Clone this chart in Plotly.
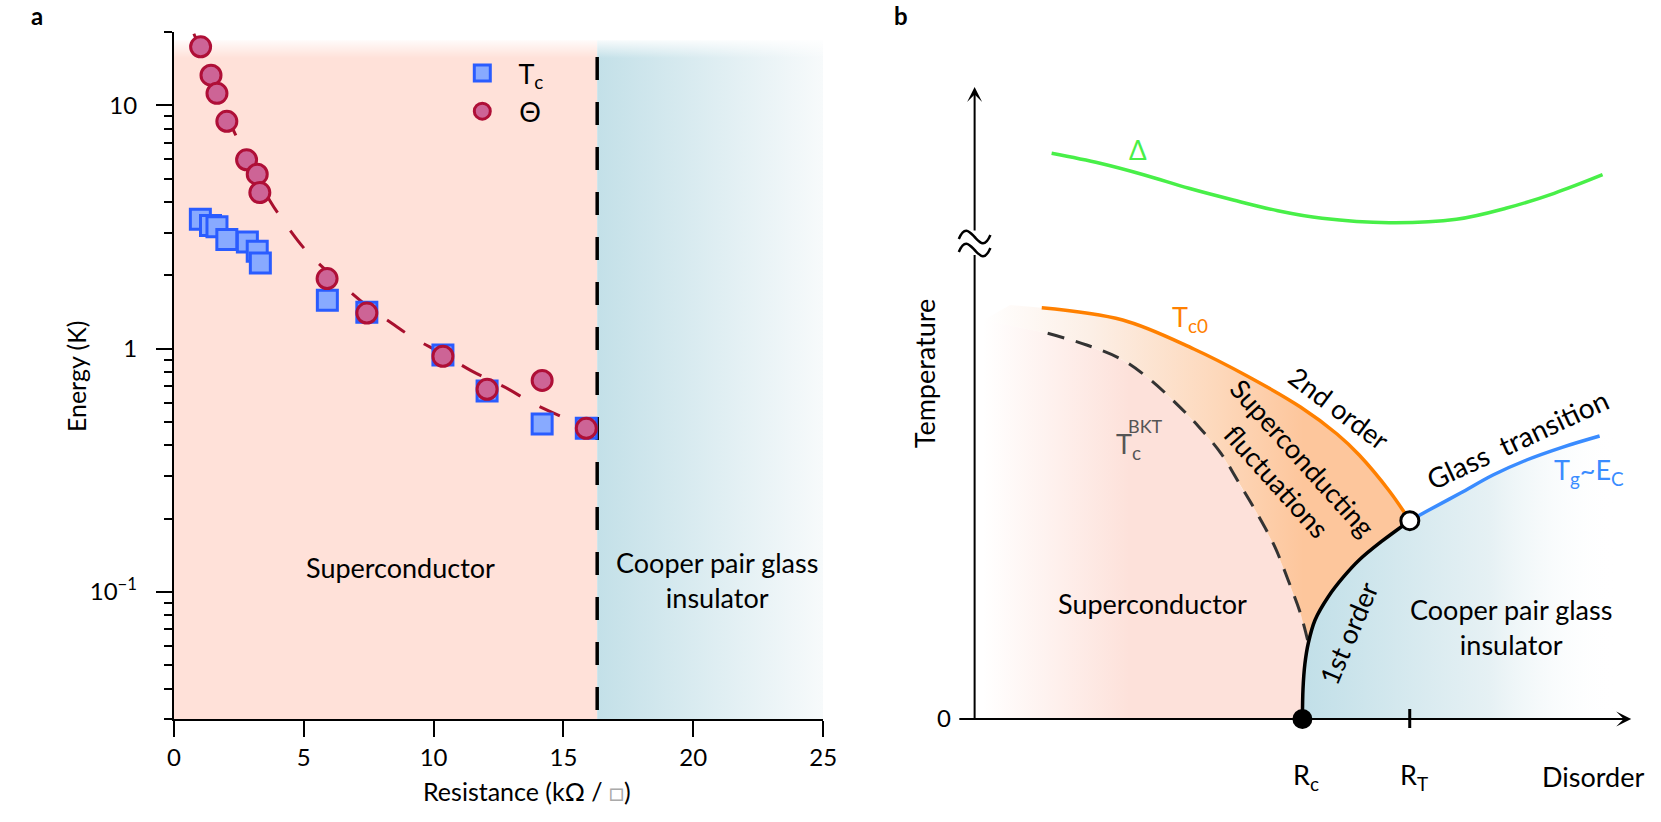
import math
import plotly.graph_objects as go

# ---------------- Panel a data ----------------
R_TC = [1.02, 1.41, 1.66, 2.04, 2.83, 3.21, 3.33, 5.91, 7.43, 10.36, 12.06, 14.18, 15.88]
E_TC = [3.40, 3.21, 3.17, 2.81, 2.74, 2.51, 2.25, 1.58, 1.41, 0.94, 0.67, 0.49, 0.47]
R_THETA = [1.03, 1.43, 1.66, 2.04, 2.80, 3.21, 3.31, 5.90, 7.43, 10.36, 12.06, 14.18, 15.88]
E_THETA = [17.4, 13.3, 11.2, 8.6, 5.97, 5.21, 4.38, 1.94, 1.40, 0.93, 0.68, 0.74, 0.47]
R_FIT = [0.77, 1.5, 2.26, 2.9, 3.71, 4.09, 5.13, 6.41, 7.43, 8.49, 9.2, 10.36, 11.46, 12.9, 13.76, 15.36, 15.9]
E_FIT = [19.7, 12.9, 8.04, 5.9, 4.03, 3.5, 2.5, 1.86, 1.50, 1.25, 1.11, 0.95, 0.81, 0.68, 0.60, 0.50, 0.47]
R_TRANSITION = 16.3
R_MIN, R_MAX = 0, 25
E_MIN, E_MAX = 0.03, 20
X_TICKS = [0, 5, 10, 15, 20, 25]
Y_TICKVALS = [0.1, 1, 10]
Y_TICKTEXT = ["10<sup>\u22121</sup>", "1", "10"]
Y_MINOR = [0.03, 0.04, 0.05, 0.06, 0.07, 0.08, 0.09,
           0.2, 0.3, 0.4, 0.5, 0.6, 0.7, 0.8, 0.9,
           2, 3, 4, 5, 6, 7, 8, 9, 20]

# ---------------- Panel b (schematic) data ----------------
TC0_D = [0.68, 1.50, 2.22, 2.76, 3.30, 3.67, 3.895, 4.20, 4.408]
TC0_T = [4.113, 3.99, 3.70, 3.43, 3.12, 2.85, 2.64, 2.28, 1.983]
BKT_D = [0.74, 1.135, 1.50, 1.77, 2.04, 2.27, 2.495, 2.68, 2.86, 3.04, 3.175, 3.30, 3.38]
BKT_T = [3.857, 3.74, 3.59, 3.40, 3.157, 2.923, 2.657, 2.357, 2.057, 1.723, 1.39, 1.057, 0.76]
FIRST_D = [3.32, 3.326, 3.345, 3.38, 3.448, 3.582, 3.738, 3.895, 4.118, 4.408]
FIRST_T = [0.0, 0.30, 0.55, 0.76, 0.99, 1.223, 1.423, 1.59, 1.773, 1.983]
TG_D = [4.408, 4.583, 4.917, 5.25, 5.59, 5.95, 6.33]
TG_T = [1.983, 2.08, 2.257, 2.44, 2.59, 2.717, 2.83]
DELTA_D = [0.78, 1.27, 1.72, 2.17, 2.62, 3.07, 3.52, 4.20, 4.88, 5.38, 5.87, 6.36]
DELTA_T = [5.657, 5.557, 5.44, 5.307, 5.19, 5.083, 5.007, 4.963, 4.997, 5.107, 5.257, 5.443]
R_C = 3.32
R_T = 4.407
LEFT_FADE_D = 0.09
TC0_EXT = (0.36, 4.14)
BKT_EXT = (0.09, 3.99)
BLUE_END_D = 6.5
D_ARROW_END = 6.65
T_ARROW_END = 6.32
T_BREAK = (4.64, 4.87)

W, H = 1661, 822
FONT = "Lato, 'Noto Sans', sans-serif"
PINK_A = "#ffe1d9"
BLUE_L = "#c3e0e8"
BLUE_R = "#f7fafb"
PINK_B = "#fde1da"
ORANGE_F = "#fdc69c"
SQ_FILL, SQ_LINE = "#88aaff", "#2a5cff"
CI_FILL, CI_LINE = "#cd6496", "#af0f37"
FIT_COL = "#a8102e"
NB = "\u00a0"

fig = go.Figure()
NOLINE = dict(width=0, color="rgba(0,0,0,0)")

# ---- panel a backgrounds (on x / y, y linear 0..1) ----
A_TOP = 0.988
FADE_LOW = 0.962
fig.add_trace(go.Scatter(x=[R_MIN, R_TRANSITION, R_TRANSITION, R_MIN], y=[0, 0, A_TOP, A_TOP],
                         fill="toself", fillcolor=PINK_A, line=NOLINE, mode="lines",
                         hoverinfo="skip", showlegend=False, xaxis="x", yaxis="y"))
fig.add_trace(go.Scatter(x=[R_TRANSITION, R_MAX, R_MAX, R_TRANSITION], y=[0, 0, A_TOP, A_TOP],
                         fill="toself",
                         fillgradient=dict(type="horizontal", colorscale=[[0, BLUE_L], [1, BLUE_R]]),
                         line=NOLINE, mode="lines", hoverinfo="skip", showlegend=False,
                         xaxis="x", yaxis="y"))
fig.add_trace(go.Scatter(x=[R_MIN, R_MAX, R_MAX, R_MIN], y=[FADE_LOW, FADE_LOW, A_TOP + 0.004, A_TOP + 0.004],
                         fill="toself",
                         fillgradient=dict(type="vertical",
                                           colorscale=[[0, "rgba(255,255,255,0)"], [1, "rgba(255,255,255,1)"]]),
                         line=NOLINE, mode="lines", hoverinfo="skip", showlegend=False,
                         xaxis="x", yaxis="y"))
fig.add_trace(go.Scatter(x=[R_TRANSITION, R_TRANSITION], y=[0.9636, 0],
                         mode="lines", line=dict(color="black", width=3.5, dash="23px,22px"),
                         hoverinfo="skip", showlegend=False, xaxis="x", yaxis="y"))

# ---- panel a data (on x / y2 log) ----
fig.add_trace(go.Scatter(x=R_FIT, y=E_FIT, mode="lines",
                         line=dict(color=FIT_COL, width=3, dash="22px,22px", shape="spline"),
                         hoverinfo="skip", showlegend=False, xaxis="x", yaxis="y2"))
fig.add_trace(go.Scatter(x=R_TC, y=E_TC, mode="markers", name=NB + "T<sub>c</sub>",
                         marker=dict(symbol="square", size=20, color=SQ_FILL,
                                     line=dict(color=SQ_LINE, width=3)),
                         xaxis="x", yaxis="y2"))
fig.add_trace(go.Scatter(x=R_THETA, y=E_THETA, mode="markers", name=NB + "\u0398",
                         marker=dict(symbol="circle", size=20, color=CI_FILL,
                                     line=dict(color=CI_LINE, width=3)),
                         xaxis="x", yaxis="y2"))

# ---- panel b regions (on x2 / y3) ----
split = [i for i, t in enumerate(FIRST_T) if t >= BKT_T[-1]][0]
pink_d = [LEFT_FADE_D] + FIRST_D[:split + 1] + BKT_D[::-1] + [BKT_EXT[0]]
pink_t = [0] + FIRST_T[:split + 1] + BKT_T[::-1] + [BKT_EXT[1]]
fig.add_trace(go.Scatter(x=pink_d, y=pink_t, fill="toself", mode="lines", line=NOLINE,
                         fillgradient=dict(type="horizontal",
                                           colorscale=[[0, "rgba(253,225,218,0)"], [0.45, PINK_B], [1, PINK_B]]),
                         hoverinfo="skip", showlegend=False, xaxis="x2", yaxis="y3"))
orange_d = [TC0_EXT[0]] + TC0_D + FIRST_D[split:][::-1] + BKT_D[::-1] + [BKT_EXT[0]]
orange_t = [TC0_EXT[1]] + TC0_T + FIRST_T[split:][::-1] + BKT_T[::-1] + [BKT_EXT[1]]
fig.add_trace(go.Scatter(x=orange_d, y=orange_t, fill="toself", mode="lines", line=NOLINE,
                         fillgradient=dict(type="horizontal",
                                           colorscale=[[0, "rgba(253,238,228,0)"], [0.25, "#fcefe6"],
                                                       [0.55, "#fdd8bb"], [0.75, ORANGE_F], [1, ORANGE_F]]),
                         hoverinfo="skip", showlegend=False, xaxis="x2", yaxis="y3"))
blue_d = FIRST_D + TG_D[1:] + [BLUE_END_D, BLUE_END_D]
blue_t = FIRST_T + TG_T[1:] + [TG_T[-1] + 0.05, 0]
fig.add_trace(go.Scatter(x=blue_d, y=blue_t, fill="toself", mode="lines", line=NOLINE,
                         fillgradient=dict(type="horizontal",
                                           colorscale=[[0, "#c1dfe8"], [0.6, "#e6f1f4"], [1, "rgba(255,255,255,0)"]]),
                         hoverinfo="skip", showlegend=False, xaxis="x2", yaxis="y3"))

# ---- panel b curves ----
def bline(xs, ys, color, width=3.5, dash=None, shape="spline"):
    fig.add_trace(go.Scatter(x=xs, y=ys, mode="lines",
                             line=dict(color=color, width=width, dash=dash, shape=shape),
                             hoverinfo="skip", showlegend=False, xaxis="x2", yaxis="y3"))

bline(DELTA_D, DELTA_T, "#48ef48")
bline(TC0_D, TC0_T, "#ff8000")
bline(BKT_D, BKT_T, "#333333", 3, "17px,12px")
bline(FIRST_D, FIRST_T, "black")
bline(TG_D, TG_T, "#3a8cff")
bline([R_T, R_T], [-0.09, 0.10], "black", 3, shape="linear")
fig.add_trace(go.Scatter(x=[R_C], y=[0], mode="markers",
                         marker=dict(size=20, color="black"), cliponaxis=False,
                         hoverinfo="skip", showlegend=False, xaxis="x2", yaxis="y3"))
fig.add_trace(go.Scatter(x=[TC0_D[-1]], y=[TC0_T[-1]], mode="markers",
                         marker=dict(size=18, color="white", line=dict(color="black", width=3)),
                         hoverinfo="skip", showlegend=False, xaxis="x2", yaxis="y3"))

# ---- annotations ----
ann = []
def bt(x, y, text, size=27, color="black", angle=0, family=FONT):
    ann.append(dict(x=x, y=y, xref="x2", yref="y3", text=text, showarrow=False,
                    textangle=angle, font=dict(size=size, color=color, family=family),
                    xanchor="center", yanchor="middle", align="center"))

bt(1.65, 5.69, "\u0394", 26, "#48ef48")
bt(2.18, 4.01, "T<sub>c0</sub>", 27, "#ff8000")
bt(1.56, 2.74, "T<sub>c</sub>", 27, "#555555")
bt(1.73, 2.93, "BKT", 18, "#555555")
bt(3.70, 3.11, "2nd order", 27, angle=37)
bt(3.19, 2.50, "Superconducting<br>fluctuations", 27, angle=48)
bt(3.78, 0.86, "1st order", 27, angle=-67)
bt(1.80, 1.16, "Superconductor", 27)
bt(5.43, 0.92, "Cooper pair glass<br>insulator", 27)
bt(5.50, 2.80, "Glass" + NB * 2 + "transition", 28, angle=-25)
bt(6.22, 2.48, "T<sub>g</sub>~E<sub>C</sub>", 27, "#3a8cff")
bt(-0.51, 3.46, "Temperature", 27, angle=-90)
bt(-0.31, 0.02, "0", 24)
bt(3.36, -0.57, "R<sub>c</sub>", 27)
bt(4.45, -0.57, "R<sub>T</sub>", 27)
bt(6.26, -0.57, "Disorder", 27)

# axis arrows of panel b
ann.append(dict(x=D_ARROW_END, y=0, ax=-0.17, ay=0, xref="x2", yref="y3", axref="x2", ayref="y3",
                text="", showarrow=True, arrowhead=3, arrowsize=1.25, arrowwidth=2, arrowcolor="black"))
ann.append(dict(x=0, y=T_ARROW_END, ax=0, ay=T_BREAK[1], xref="x2", yref="y3", axref="x2", ayref="y3",
                text="", showarrow=True, arrowhead=3, arrowsize=1.25, arrowwidth=2, arrowcolor="black"))

# panel a texts
ann.append(dict(x=8.73, y=0.22, xref="x", yref="y", text="Superconductor", showarrow=False,
                font=dict(size=27)))
ann.append(dict(x=20.9, y=0.202, xref="x", yref="y", text="Cooper pair glass<br>insulator",
                showarrow=False, font=dict(size=27), align="center"))
ann.append(dict(x=70 / W, y=1 - 376 / H, xref="paper", yref="paper", text="Energy (K)", showarrow=False,
                textangle=-90, font=dict(size=25), xanchor="center", yanchor="middle"))
ann.append(dict(x=527 / W, y=1 - 791 / H, xref="paper", yref="paper",
                text="Resistance (k\u03a9 / <span style='color:#aaaaaa'>\u25a1</span>)", showarrow=False,
                font=dict(size=25), xanchor="center", yanchor="middle"))
ann.append(dict(x=30 / W, y=1 - 16 / H, xref="paper", yref="paper", text="<b>a</b>", showarrow=False,
                font=dict(size=24), xanchor="center", yanchor="middle"))
ann.append(dict(x=905 / W, y=1 - 16 / H, xref="paper", yref="paper", text="<b>b</b>", showarrow=False,
                font=dict(size=24), xanchor="center", yanchor="middle"))

# axis line below the break, and the break mark (two tildes)
def tilde(c):
    return (f"M -0.16,{c - 0.02:.3f} C -0.10,{c + 0.12:.3f} -0.05,{c + 0.05:.3f} 0,{c:.3f} "
            f"S 0.10,{c - 0.12:.3f} 0.16,{c + 0.02:.3f}")

shapes = [dict(type="line", xref="x2", yref="y3", x0=0, x1=0, y0=0, y1=T_BREAK[0],
               line=dict(color="black", width=2)),
          dict(type="path", xref="x2", yref="y3", path=tilde(4.82), line=dict(color="black", width=2.5)),
          dict(type="path", xref="x2", yref="y3", path=tilde(4.69), line=dict(color="black", width=2.5))]

fig.update_layout(
    width=W, height=H, margin=dict(l=0, r=0, t=0, b=0),
    paper_bgcolor="white", plot_bgcolor="rgba(0,0,0,0)",
    font=dict(family=FONT, size=24, color="black"),
    annotations=ann, shapes=shapes,
    legend=dict(x=451 / W, y=1 - 49 / H, xanchor="left", yanchor="top", bgcolor="rgba(0,0,0,0)",
                font=dict(size=27), itemwidth=50, tracegroupgap=0),
    xaxis=dict(domain=[169 / W, 826.6 / W], range=[R_MIN, R_MAX], tickvals=X_TICKS, ticks="outside",
               ticklen=16, tickwidth=2, tickcolor="black", showline=True, linewidth=2, linecolor="black",
               showgrid=False, zeroline=False, anchor="y", tickfont=dict(size=24), ticklabelstandoff=0),
    yaxis=dict(domain=[1 - 719 / H, 1 - 32 / H], range=[0, 1], visible=False, anchor="x"),
    yaxis2=dict(type="log", range=[math.log10(E_MIN), math.log10(E_MAX) + 0.0005], overlaying="y",
                anchor="x", side="left", tickvals=Y_TICKVALS, ticktext=Y_TICKTEXT, ticks="outside",
                ticklen=16, tickwidth=2, tickcolor="black", showline=True, linewidth=2, linecolor="black",
                showgrid=False, zeroline=False, tickfont=dict(size=24), ticklabelstandoff=14,
                minor=dict(tickvals=Y_MINOR, ticks="outside", ticklen=8, tickwidth=2, tickcolor="black",
                           showgrid=False)),
    xaxis2=dict(domain=[850 / W, 1], range=[-1.30, 6.81], visible=False, anchor="y3"),
    yaxis3=dict(domain=[0, 1], range=[-1.03, 7.19], visible=False, anchor="x2"),
)

fig.write_html("out.html", config={"displayModeBar": False},
               post_script="document.body.style.margin='0';")
